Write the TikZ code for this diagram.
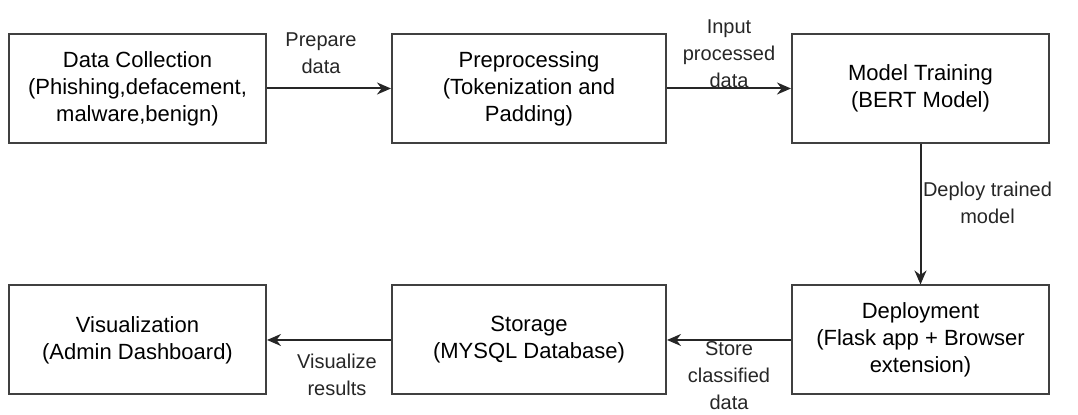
\documentclass[tikz,border=0pt]{standalone}
\usepackage{fontspec}
\setmainfont{Liberation Sans}
\usetikzlibrary{arrows.meta}

\tikzset{
  stage/.style={draw=black!75, line width=1pt, align=center, inner sep=2pt,
    minimum height=54.5pt, font=\fontsize{11}{13.5}\selectfont},
  flowlabel/.style={align=center, inner sep=0pt, font=\fontsize{10}{13.5}\selectfont}
}

\begin{document}
\begin{tikzpicture}[x=0.5pt, y=-0.5pt]
    \useasboundingbox (0,0) rectangle (1078,415);

    \node[stage, minimum width=128.5pt] (collect) at (137.5,88.5) {Data Collection\\(Phishing,defacement,\\malware,benign)};
    \node[stage, minimum width=137pt]   (prep)    at (529,88.5)   {Preprocessing\\(Tokenization and\\Padding)};
    \node[stage, minimum width=128.5pt] (train)   at (920.5,88.5) {Model Training\\(BERT Model)};
    \node[stage, minimum width=128.5pt] (deploy)  at (920.5,340)  {Deployment\\(Flask app + Browser\\extension)};
    \node[stage, minimum width=137pt]   (store)   at (529,340)    {Storage\\(MYSQL Database)};
    \node[stage, minimum width=128.5pt] (visual)  at (137.5,340)  {Visualization\\(Admin Dashboard)};

    \begin{scope}[every path/.style={-{Stealth[length=7pt,width=6pt]}, line width=1pt, black!85}]
       \draw (collect) -- (prep)
          node[flowlabel, midway, xshift=-4pt, yshift=17.5pt] {Prepare\\data};
       \draw (prep) -- (train)
          node[flowlabel, midway, yshift=17.5pt] {Input\\processed\\data};
       \draw (train) -- (deploy)
          node[flowlabel, midway, xshift=33.5pt, yshift=5.5pt] {Deploy trained\\model};
       \draw (deploy) -- (store)
          node[flowlabel, midway, yshift=-18pt] {Store\\classified\\data};
       \draw (store) -- (visual)
          node[flowlabel, midway, xshift=4pt, yshift=-17.5pt] {Visualize\\results};
    \end{scope}

\end{tikzpicture}
\end{document}
